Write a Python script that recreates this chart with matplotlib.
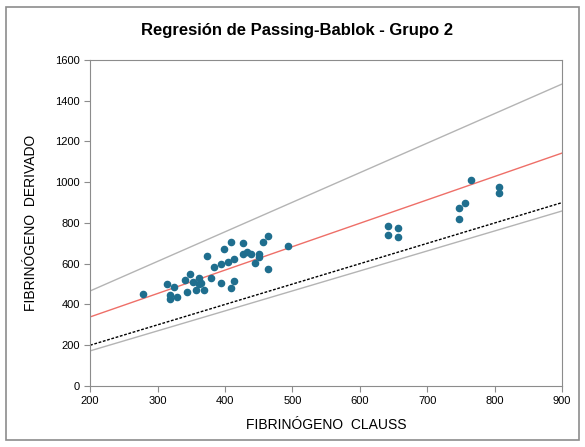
import matplotlib.pyplot as plt
from matplotlib.patches import Rectangle
import numpy as np

plt.rcParams['font.family'] = ['Liberation Sans', 'DejaVu Sans']

# Fibrinógeno Clauss (x) vs Fibrinógeno derivado (y)
clauss = [278, 314, 318, 318, 325, 329, 341, 344, 348, 353, 357, 361, 361, 365,
          369, 374, 379, 384, 394, 394, 399, 404, 409, 409, 414, 414, 427, 426,
          432, 438, 445, 451, 451, 457, 464, 464, 494,
          642, 656, 642, 656, 747, 756, 747, 765, 806, 806]
derivado = [451, 500, 446, 427, 487, 435, 520, 463, 548, 512, 471, 531, 499, 504,
            471, 638, 528, 584, 504, 600, 674, 608, 705, 479, 623, 515, 700, 646,
            656, 649, 605, 646, 631, 705, 734, 573, 685,
            787, 774, 739, 733, 872, 900, 819, 1012, 976, 947]

# Passing-Bablok fit and confidence band (intercept, slope)
fit = (109, 1.149)
upper = (176, 1.451)
lower = (-24, 0.981)

x_range = [200, 900]

fig = plt.figure(figsize=(5.85, 4.47), dpi=100)
fig.patches.append(Rectangle((0.01, 0.015), 0.98, 0.97, transform=fig.transFigure,
                             fill=False, edgecolor='#8c8c8c', linewidth=1.2))
ax = fig.add_axes([0.154, 0.1365, 0.807, 0.7295])

xs = np.array(x_range)
ax.plot(xs, upper[0] + upper[1] * xs, color='#b4b4b4', linewidth=1)
ax.plot(xs, lower[0] + lower[1] * xs, color='#b4b4b4', linewidth=1)
ax.plot(xs, xs, color='black', linewidth=1, linestyle=(0, (2, 1.2)))
ax.plot(xs, fit[0] + fit[1] * xs, color='#ee6f68', linewidth=1)
ax.scatter(clauss, derivado, s=20, color='#1f6e8e', zorder=3)

ax.set_xlim(200, 900)
ax.set_ylim(0, 1600)
ax.set_xticks(range(200, 901, 100))
ax.set_yticks(range(0, 1601, 200))
ax.tick_params(labelsize=8, color='#8c8c8c', length=4)
for s in ax.spines.values():
    s.set_color('#8c8c8c')

ax.set_xlabel('FIBRINÓGENO  CLAUSS', fontsize=10, labelpad=8)
ax.set_ylabel('FIBRINÓGENO  DERIVADO', fontsize=10, labelpad=12)
fig.suptitle('Regresión de Passing-Bablok - Grupo 2', fontsize=12, fontweight='bold',
             x=0.508, y=0.948)

fig.savefig('out.png', dpi=100)
